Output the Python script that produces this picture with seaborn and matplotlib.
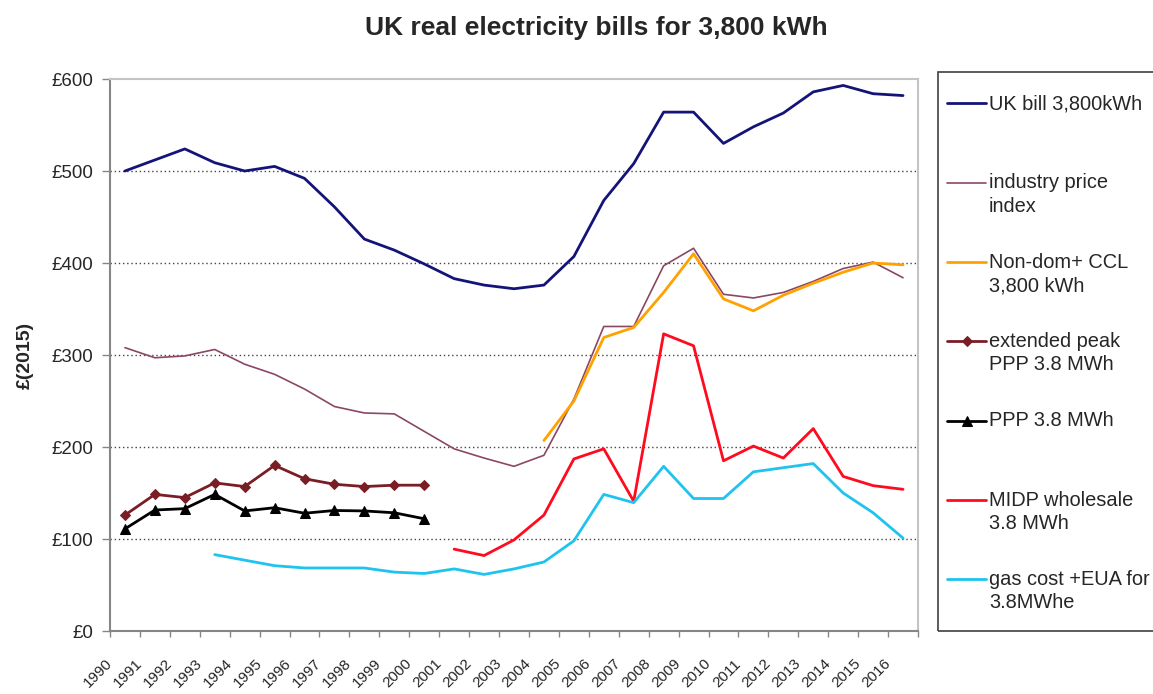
import numpy as np
import seaborn as sns
import matplotlib.pyplot as plt
from matplotlib.legend_handler import HandlerLine2D
from matplotlib.lines import Line2D
from matplotlib.patches import Rectangle

na = np.nan

# categories
years = list(range(1990, 2017))

# series values, £(2015)
uk_bill = [500, 512, 524, 509, 500, 505, 492, 461, 426, 414, 399, 383, 376, 372,
           376, 407, 468, 508, 564, 564, 530, 548, 563, 586, 593, 584, 582]
industry_index = [308, 297, 299, 306, 290, 279, 263, 244, 237, 236, 217, 198, 188, 179,
                  191, 252, 331, 331, 397, 416, 366, 362, 368, 380, 394, 401, 384]
non_dom_ccl = [na, na, na, na, na, na, na, na, na, na, na, na, na, na,
               207, 250, 319, 330, 368, 410, 361, 348, 365, 378, 390, 400, 398]
ext_peak_ppp = [126, 148.5, 145, 161, 157, 180, 165.5, 159.5, 157, 158.5, 158.5,
                na, na, na, na, na, na, na, na, na, na, na, na, na, na, na, na]
ppp = [111, 131.5, 133, 148.5, 130.5, 134, 128, 131, 130.5, 128.5, 122,
       na, na, na, na, na, na, na, na, na, na, na, na, na, na, na, na]
midp_wholesale = [na, na, na, na, na, na, na, na, na, na, na,
                  89, 82, 99, 126, 187, 198, 141, 323, 310, 185, 201, 188, 220, 168, 158, 154]
gas_eua = [na, na, na, 83, 77, 71, 68.5, 68.5, 68.5, 64, 62.5, 67.5, 61.5, 67.5,
           75, 98, 148.5, 139.5, 179, 144, 144, 173, 177.5, 182, 150, 128.5, 101]

y_ticks = [0, 100, 200, 300, 400, 500, 600]
y_tick_labels = ["£0", "£100", "£200", "£300", "£400", "£500", "£600"]

series = [
    ("UK bill 3,800kWh\n ", uk_bill, "#141478", 2.0, None, 0),
    ("industry price\nindex", industry_index, "#8a4766", 1.2, None, 0),
    ("Non-dom+ CCL\n3,800 kWh", non_dom_ccl, "#ffa200", 2.0, None, 0),
    ("extended peak\nPPP 3.8 MWh", ext_peak_ppp, "#7a1e26", 2.0, "D", 5),
    ("PPP 3.8 MWh\n ", ppp, "#000000", 2.0, "^", 7),
    ("MIDP wholesale\n3.8 MWh", midp_wholesale, "#ff0a1e", 2.0, None, 0),
    ("gas cost +EUA for\n3.8MWhe", gas_eua, "#1ec3ee", 2.0, None, 0),
]


class FirstLineHandler(HandlerLine2D):
    # put the legend line level with the first text line, as Excel does
    def create_artists(self, legend, orig_handle, xdescent, ydescent,
                       width, height, fontsize, trans):
        arts = super().create_artists(legend, orig_handle, xdescent, ydescent,
                                      width, height, fontsize, trans)
        for a in arts:
            a.set_ydata(np.asarray(a.get_ydata()) + 0.62 * fontsize)
        return arts


sns.set_style("ticks")
plt.rcParams["font.family"] = ["Liberation Sans", "DejaVu Sans"]

W, H = 1153, 694
fig = plt.figure(figsize=(W / 100, H / 100), dpi=100)
ax = fig.add_axes([110 / W, 1 - 631 / H, 808 / W, 552 / H])

for label, vals, color, lw, marker, ms in series:
    sns.lineplot(x=years, y=vals, ax=ax, color=color, linewidth=lw,
                 marker=marker, markersize=ms, markeredgecolor=color,
                 label=label, legend=False)

ax.set_xlim(years[0] - 0.5, years[-1] + 0.5)
ax.set_ylim(0, 600)
ax.set_yticks(y_ticks)
ax.set_yticklabels(y_tick_labels, fontsize=13.5)
ax.set_xticks([y - 0.5 for y in years] + [years[-1] + 0.5])
ax.set_xticklabels([str(y) for y in years] + [""], fontsize=11, rotation=45,
                   ha="right", va="center", rotation_mode="anchor")
ax.tick_params(axis="x", length=4, width=1, color="#868686", pad=18)
ax.tick_params(axis="y", length=6, width=1, color="#868686", pad=6)

ax.yaxis.grid(True, linestyle=(0, (1, 2)), color="#444444", linewidth=1)
ax.set_axisbelow(True)
ax.get_ygridlines()[-1].set_visible(False)

for side in ["left", "bottom"]:
    ax.spines[side].set_color("#868686")
    ax.spines[side].set_linewidth(1.5)
for side in ["top", "right"]:
    ax.spines[side].set_visible(True)
    ax.spines[side].set_color("#c4c4c4")
    ax.spines[side].set_linewidth(1.5)

ax.set_xlabel("")
ax.set_ylabel("£(2015)", fontsize=14, fontweight="bold")
ax.yaxis.set_label_coords(-(110 - 25) / 808, 0.5)
ax.yaxis.label.set_va("center")

fig.text(596 / W, 1 - 28 / H, "UK real electricity bills for 3,800 kWh",
         ha="center", va="center", fontsize=19, fontweight="bold")

# legend outside the plot, in its own box that runs off the right edge
handles, labels = ax.get_legend_handles_labels()
leg = ax.legend(handles, labels, loc="upper left",
                bbox_to_anchor=(947 / W, 1 - 94 / H), bbox_transform=fig.transFigure,
                frameon=False, fontsize=14.4, borderpad=0, borderaxespad=0,
                handlelength=1.95, handletextpad=0.15, labelspacing=1.84,
                handler_map={Line2D: FirstLineHandler()})
for t in leg.get_texts():
    t.set_linespacing(1.3)
fig.add_artist(Rectangle((938 / W, 1 - 631 / H), (1170 - 938) / W, (631 - 72) / H,
                         transform=fig.transFigure, fill=False,
                         edgecolor="#404040", linewidth=1.2))

fig.savefig("out.png", dpi=100)
